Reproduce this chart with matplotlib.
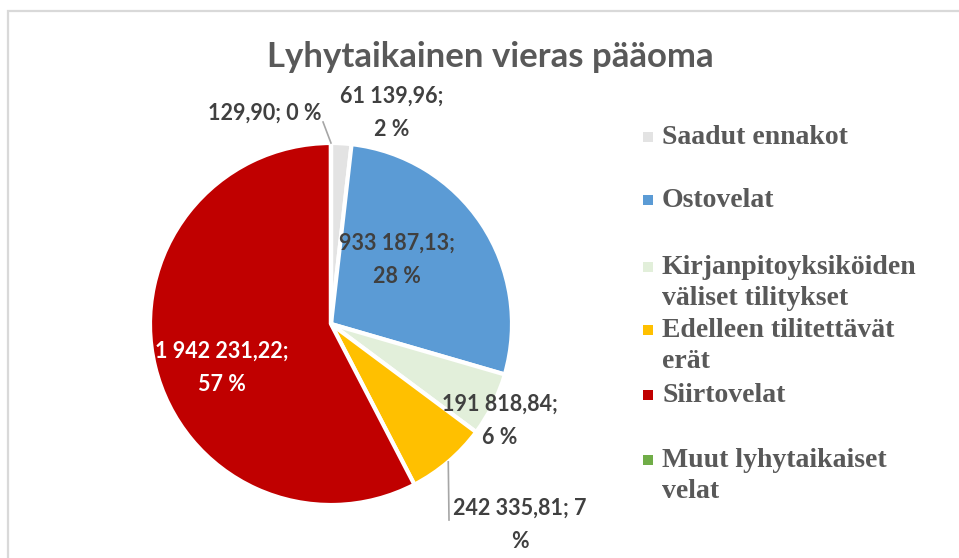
import matplotlib
matplotlib.use("Agg")
import matplotlib.pyplot as plt
from matplotlib.patches import Rectangle
import numpy as np

# ---- data ----
categories = ["Saadut ennakot", "Ostovelat", "Kirjanpitoyksiköiden väliset tilitykset",
              "Edelleen tilitettävät erät", "Siirtovelat", "Muut lyhytaikaiset velat"]
legend_labels = ["Saadut ennakot", "Ostovelat", "Kirjanpitoyksiköiden\nväliset tilitykset",
                 "Edelleen tilitettävät\nerät", "Siirtovelat", "Muut lyhytaikaiset\nvelat"]
values = [61139.96, 933187.13, 191818.84, 242335.81, 1942231.22, 129.90]
data_labels = ["61 139,96;\n2 %", "933 187,13;\n28 %", "191 818,84;\n6 %",
               "242 335,81; 7\n%", "1 942 231,22;\n57 %", "129,90; 0 %"]
colors = ["#e3e3e3", "#5b9bd5", "#e2efda", "#ffc000", "#c00000", "#70ad47"]
title = "Lyhytaikainen vieras pääoma"

# label placement (pie axes units) and styling
label_pos = [(0.337, 1.166), (0.365, 0.354), (0.934, -0.536),
             (1.044, -1.110), (-0.602, -0.243), (-0.365, 1.166)]
label_colors = ["#404040", "#404040", "#404040", "#404040", "#ffffff", "#404040"]
leader_end = {3: (0.652, -1.083), 5: (-0.044, 1.116)}

W, H = 959, 558
fig = plt.figure(figsize=(W / 100, H / 100), dpi=100)
fig.patch.set_facecolor("white")

# border
fig.add_artist(Rectangle((8 / W, -0.05), 1.1, (H - 11) / H + 0.05, transform=fig.transFigure,
                         fill=False, edgecolor="#d9d9d9", linewidth=1.6))

cx, cy, R = 331, 324, 181
ax = fig.add_axes([(cx - R) / W, (H - cy - R) / H, 2 * R / W, 2 * R / H])
wedges, _ = ax.pie(values, colors=colors, startangle=90, counterclock=False, radius=1,
                   wedgeprops=dict(edgecolor="white", linewidth=3))
ax.set_xlim(-1, 1)
ax.set_ylim(-1, 1)
ax.set_aspect("equal")
ax.axis("off")

lab_font = ["Lato", "DejaVu Sans"]
for i, (w, txt) in enumerate(zip(wedges, data_labels)):
    x, y = label_pos[i]
    ax.text(x, y, txt, ha="center", va="center", fontsize=15.5, fontweight="bold",
            color=label_colors[i], family=lab_font, linespacing=1.7, clip_on=False)
    if i in leader_end:
        mid = np.deg2rad((w.theta1 + w.theta2) / 2)
        sx, sy = np.cos(mid), np.sin(mid)
        ex, ey = leader_end[i]
        ax.plot([sx, ex], [sy, ey], color="#a6a6a6", linewidth=1.2, clip_on=False)

fig.text(490 / W, 1 - 57 / H, title, ha="center", va="center", fontsize=25,
         fontweight="bold", color="#595959", family=lab_font)

# legend
leg_y = [137, 200, 267, 330, 395, 460]
for lab, col, yy in zip(legend_labels, colors, leg_y):
    fig.add_artist(Rectangle(((648 - 5) / W, 1 - (yy + 5) / H), 10 / W, 10 / H,
                             transform=fig.transFigure, facecolor=col, edgecolor="none"))
    fig.text(662 / W, 1 - (yy - 12) / H, lab, ha="left", va="top", fontsize=20,
             fontweight="bold", color="#595959", family=["Liberation Serif", "DejaVu Serif"],
             linespacing=1.3)

fig.savefig("out.png", dpi=100)
